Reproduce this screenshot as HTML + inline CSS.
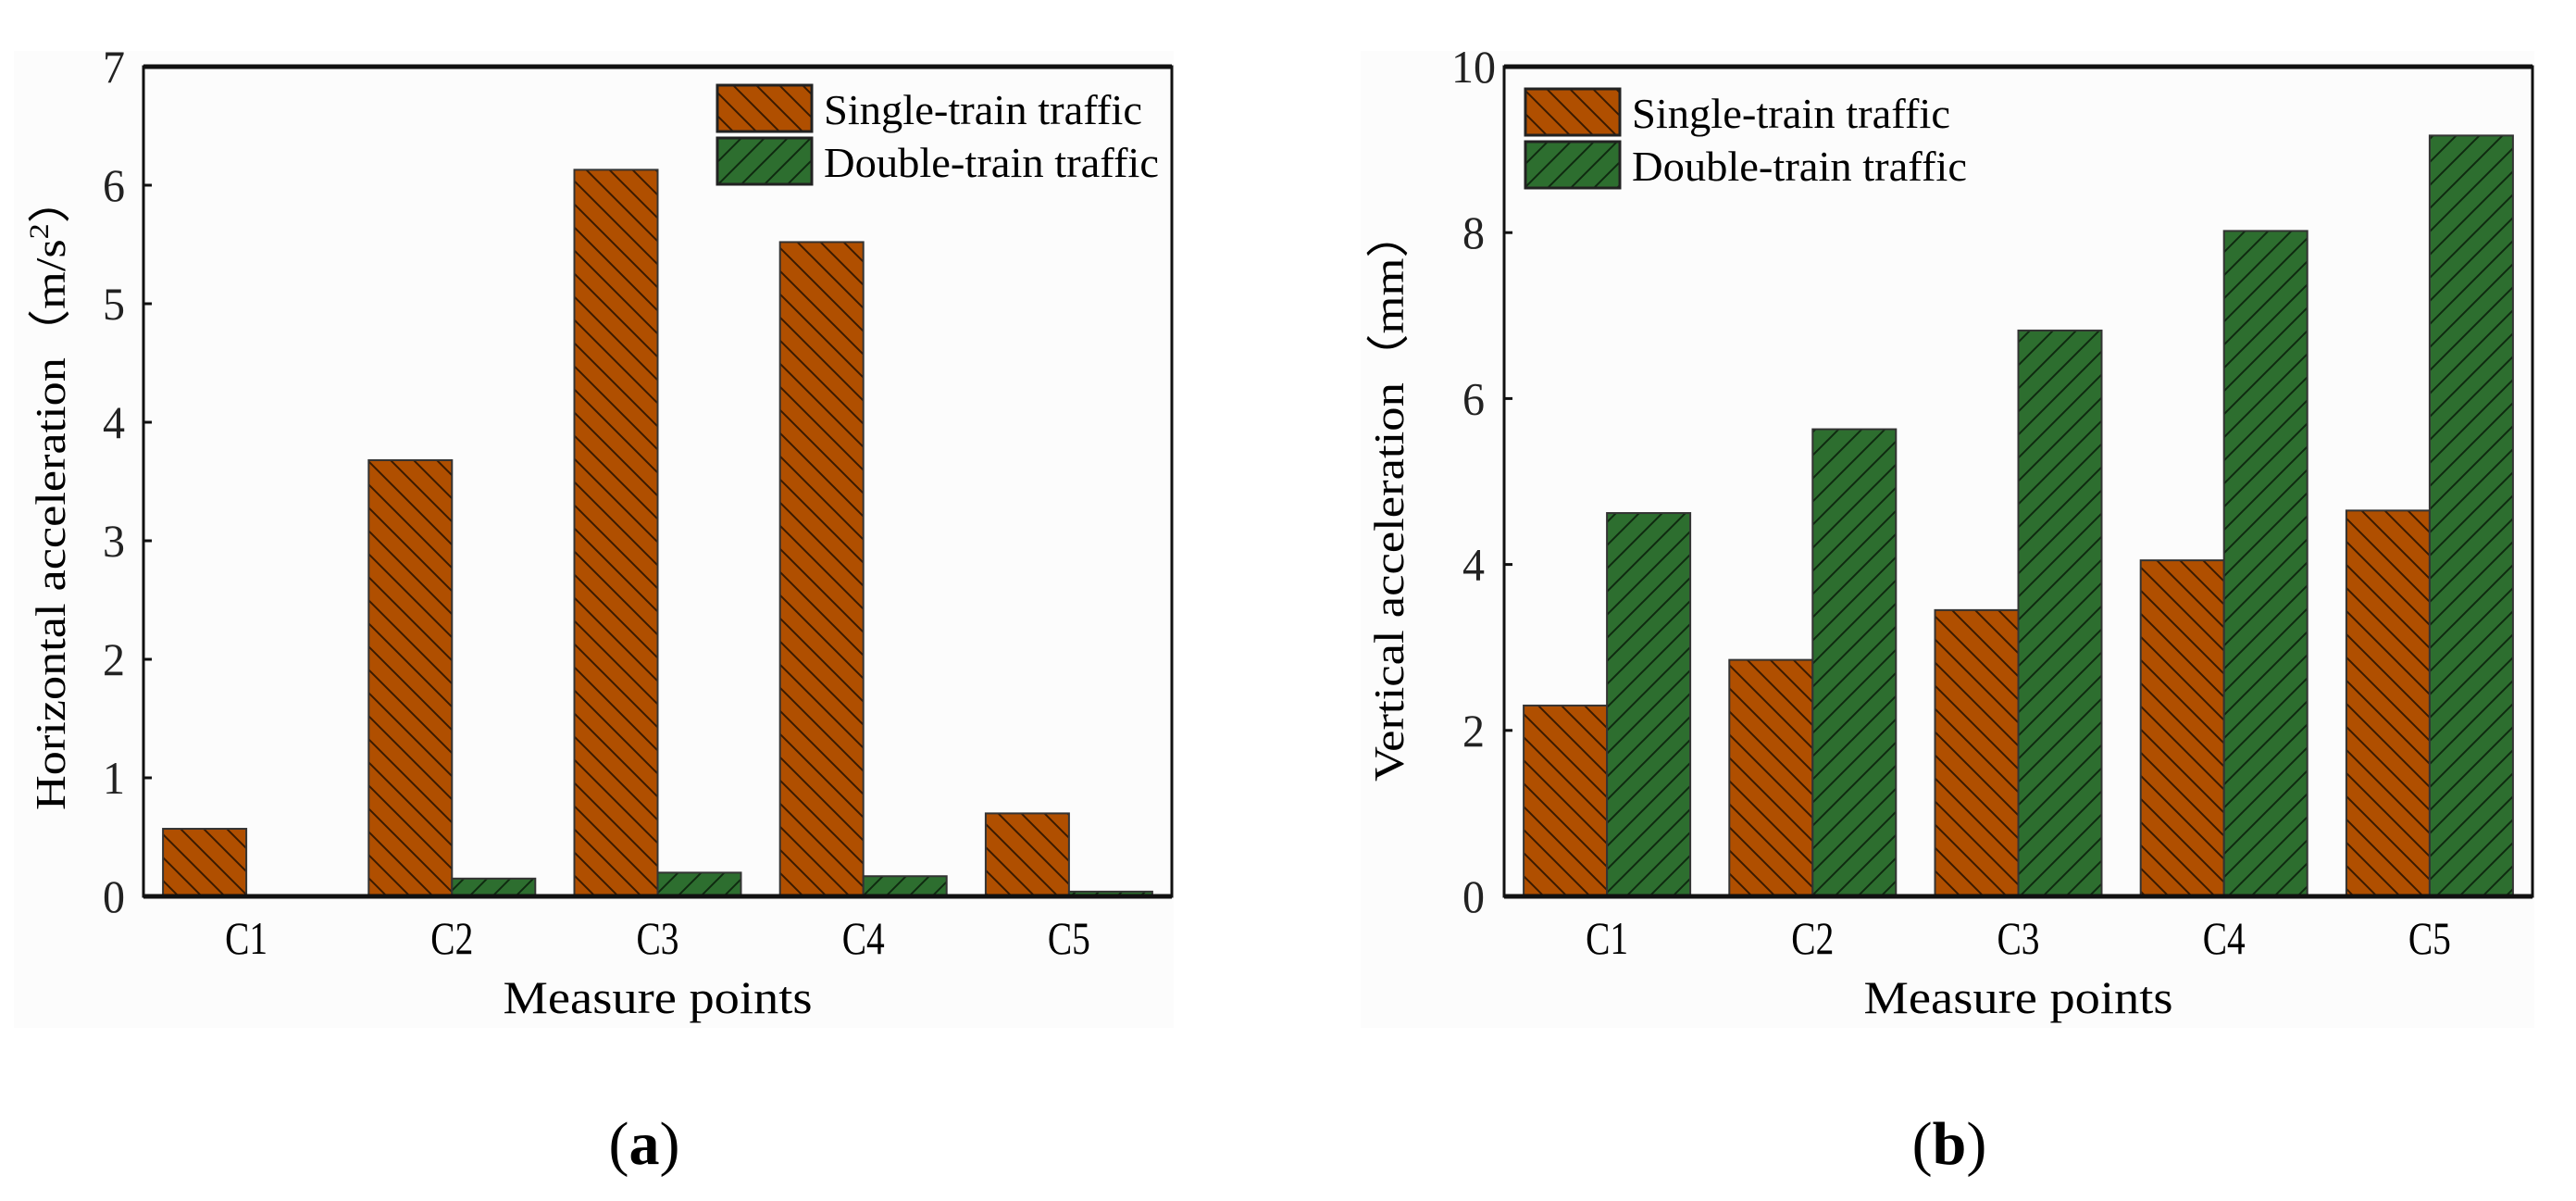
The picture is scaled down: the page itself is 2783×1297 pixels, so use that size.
<!DOCTYPE html>
<html><head><meta charset="utf-8"><style>
html,body{margin:0;padding:0;background:#fff;}
svg{display:block;font-family:"Liberation Serif",serif;}
</style></head><body>
<svg id="fig" width="2783" height="1297" viewBox="0 0 2783 1297" xmlns="http://www.w3.org/2000/svg">
<defs>
<pattern id="hs" patternUnits="userSpaceOnUse" width="25" height="25" patternTransform="rotate(0)">
<rect width="25" height="25" fill="#b04f00"/>
<path d="M-5,-5 L30,30 M-30,-5 L5,30 M20,-5 L55,30" stroke="#3a1a00" stroke-width="2"/>
</pattern>
<pattern id="hd" patternUnits="userSpaceOnUse" width="25" height="25">
<rect width="25" height="25" fill="#2d6e2f"/>
<path d="M-5,30 L30,-5 M-30,30 L5,-5 M20,30 L55,-5" stroke="#0f2a10" stroke-width="2"/>
</pattern>
</defs>
<rect x="15" y="55" width="1253" height="1055" fill="#fcfcfc"/>
<rect x="1470" y="55" width="1268" height="1055" fill="#fcfcfc"/>
<g id="ga"></g>
<g id="gb"></g>
<text x="696" y="1257" font-size="66" text-anchor="middle">(<tspan font-weight="bold">a</tspan>)</text>
<text x="2106" y="1257" font-size="66" text-anchor="middle">(<tspan font-weight="bold">b</tspan>)</text>
</svg>
<script>
const categories = ["C1","C2","C3","C4","C5"];
const singleA = [0.57, 3.68, 6.13, 5.52, 0.70];
const doubleA = [0.0, 0.15, 0.20, 0.17, 0.04];
const ticksA = [0,1,2,3,4,5,6,7];
const singleB = [2.30, 2.85, 3.45, 4.05, 4.65];
const doubleB = [4.62, 5.63, 6.82, 8.02, 9.17];
const ticksB = [0,2,4,6,8,10];

const NS = "http://www.w3.org/2000/svg";
function mk(parent, tag, attrs, text){
  const e = document.createElementNS(NS, tag);
  for (const k in attrs) e.setAttribute(k, attrs[k]);
  if (text !== undefined) e.textContent = text;
  parent.appendChild(e);
  return e;
}

function drawChart(g, cfg){
  const L=cfg.left, R=cfg.right, T=72, B=968, ymax=cfg.ymax;
  const y = v => B - (v/ymax)*(B-T);
  const gw = (R-L)/categories.length;
  const cx = i => L + gw*(i+0.5);
  const bw = 90;
  // bars
  categories.forEach((c,i)=>{
    const vs = cfg.single[i], vd = cfg.double[i];
    const r1 = mk(g,"rect",{x:cx(i)-bw,y:y(vs),width:bw,height:B-y(vs),fill:"url(#hs)",stroke:"#333","stroke-width":2});
    
    
    if (vd > 0) {
      const r2 = mk(g,"rect",{x:cx(i),y:y(vd),width:bw,height:B-y(vd),fill:"url(#hd)",stroke:"#333","stroke-width":2});
      
      
    }
    const t = mk(g,"text",{x:cx(i),y:1030,"font-size":50,"text-anchor":"middle",textLength:46,lengthAdjust:"spacingAndGlyphs"},c);
    
    
  });
  // frame
  const f = mk(g,"rect",{x:L,y:T,width:R-L,height:B-T,fill:"none",stroke:"#111","stroke-width":3});
  
  
  mk(g,"line",{x1:L,y1:T,x2:R,y2:T,stroke:"#111","stroke-width":5});
  mk(g,"line",{x1:L,y1:B,x2:R,y2:B,stroke:"#111","stroke-width":5});
  // y ticks
  cfg.ticks.forEach(v=>{
    mk(g,"line",{x1:L,y1:y(v),x2:L+9,y2:y(v),stroke:"#111","stroke-width":3});
    const t = mk(g,"text",{x:cfg.tickX,y:y(v)+17,"font-size":50,"text-anchor":"middle",textLength:(String(v).length*24),lengthAdjust:"spacingAndGlyphs",fill:"#222"},String(v));
    
    
  });
  // axis titles
  const xt = mk(g,"text",{x:(L+R)/2 - 0,y:1094,"font-size":50,"text-anchor":"middle",textLength:334,lengthAdjust:"spacingAndGlyphs"},"Measure points");
  
  
  const yt = mk(g,"text",{x:0,y:0,"font-size":46,"text-anchor":"middle",textLength:cfg.ytLen,lengthAdjust:"spacingAndGlyphs",transform:`translate(${cfg.ytX},${cfg.ytY}) rotate(-90)`});
  
  
  yt.innerHTML = cfg.ytHTML;
  // legend
  const lg = mk(g,"g",{});
  
  
  const s1 = mk(lg,"rect",{x:cfg.lx,y:cfg.ly,width:102,height:50,fill:"url(#hs)",stroke:"#222","stroke-width":3});
  
  
  const s2 = mk(lg,"rect",{x:cfg.lx,y:cfg.ly+57,width:102,height:50,fill:"url(#hd)",stroke:"#222","stroke-width":3});
  
  
  const t1 = mk(lg,"text",{x:cfg.lx+115,y:cfg.ly+42,"font-size":46,textLength:344,lengthAdjust:"spacingAndGlyphs"},"Single-train traffic");
  
  
  const t2 = mk(lg,"text",{x:cfg.lx+115,y:cfg.ly+99,"font-size":46,textLength:362,lengthAdjust:"spacingAndGlyphs"},"Double-train traffic");
  
  
}

drawChart(document.getElementById("ga"), {left:155,right:1266,ymax:7,single:singleA,double:doubleA,ticks:ticksA,tickX:123,
  ytX:70,ytY:532,ytLen:686,ytHTML:'Horizontal acceleration（m/s<tspan font-size="30" dy="-18">2</tspan><tspan dy="18">）</tspan>',lx:775,ly:92});
drawChart(document.getElementById("gb"), {left:1625,right:2736,ymax:10,single:singleB,double:doubleB,ticks:ticksB,tickX:1592,
  ytX:1516,ytY:535,ytLen:618,ytHTML:'Vertical acceleration（mm）',lx:1648,ly:96});
</script>
</body></html>
